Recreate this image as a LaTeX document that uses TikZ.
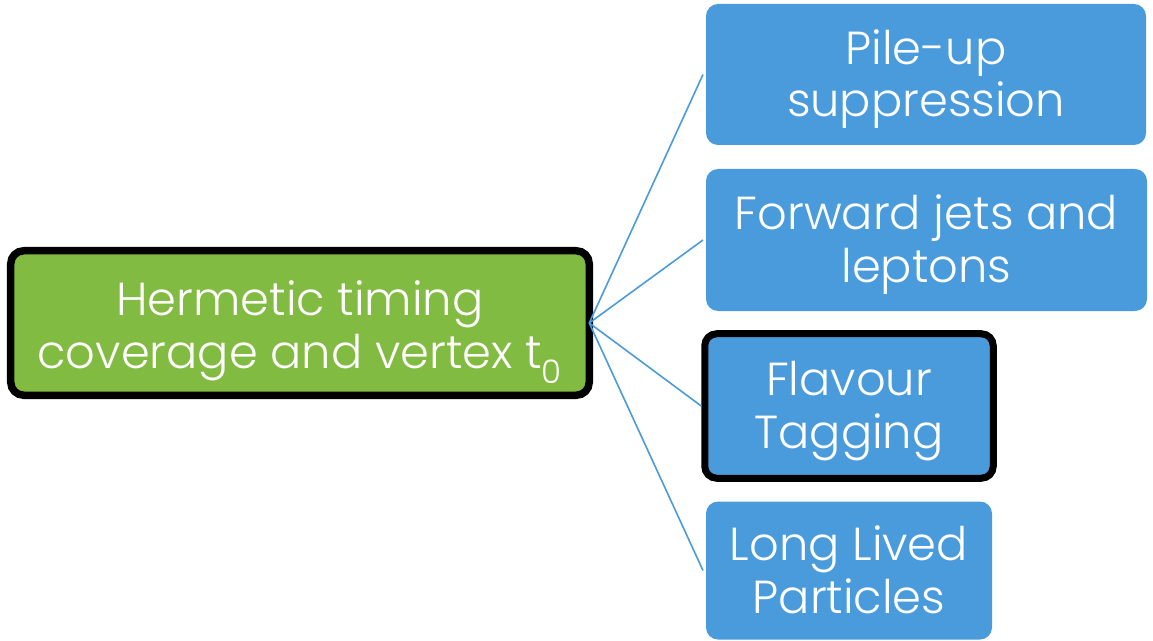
\documentclass[tikz,border=0pt]{standalone}
\usepackage{fontspec}
\setmainfont{Poppins}[UprightFont={* Light}]
\definecolor{leafblue}{RGB}{74,155,220}
\definecolor{rootgreen}{RGB}{130,187,65}
\tikzset{
  boxtext/.style={text=white, align=center, inner sep=0pt,
    font=\fontsize{46.5}{53}\selectfont},
  rootbox/.style={boxtext, draw=black, line width=7.5bp, fill=rootgreen,
    rounded corners=13bp, minimum width=578.5bp, minimum height=144.5bp,
    outer sep=0pt, text height=90bp, text depth=0bp},
  leafbox/.style={boxtext, fill=leafblue, rounded corners=12bp, outer sep=3bp,
    text height=85bp, text depth=0bp},
  framedleaf/.style={leafbox, draw=black, line width=7bp, outer sep=3.5bp},
  link/.style={draw=leafblue, line width=1.6bp}
}
\begin{document}
\begin{tikzpicture}[x=1bp, y=-1bp]
\useasboundingbox (0,0) rectangle (1153,641);

% parent box
\node[rootbox] (root) at (300,323) {Hermetic timing\\coverage and vertex t\textsubscript{0}};

% child boxes
\node[leafbox, minimum width=440bp, minimum height=141bp] (pileup) at (926,74.5) {Pile-up\\suppression};
\node[leafbox, minimum width=441bp, minimum height=142bp] (fwd) at (926.5,240) {Forward jets and\\leptons};
\node[framedleaf, minimum width=288.5bp, minimum height=144.5bp] (flavour) at (849,406) {Flavour\\Tagging};
\node[leafbox, minimum width=286bp, minimum height=138bp] (llp) at (849,570.5) {Long Lived\\Particles};

% connectors from the parent to each child
\foreach \child in {pileup, fwd, flavour, llp}
  \draw[link] (root.east) -- (\child.west);
\end{tikzpicture}
\end{document}
